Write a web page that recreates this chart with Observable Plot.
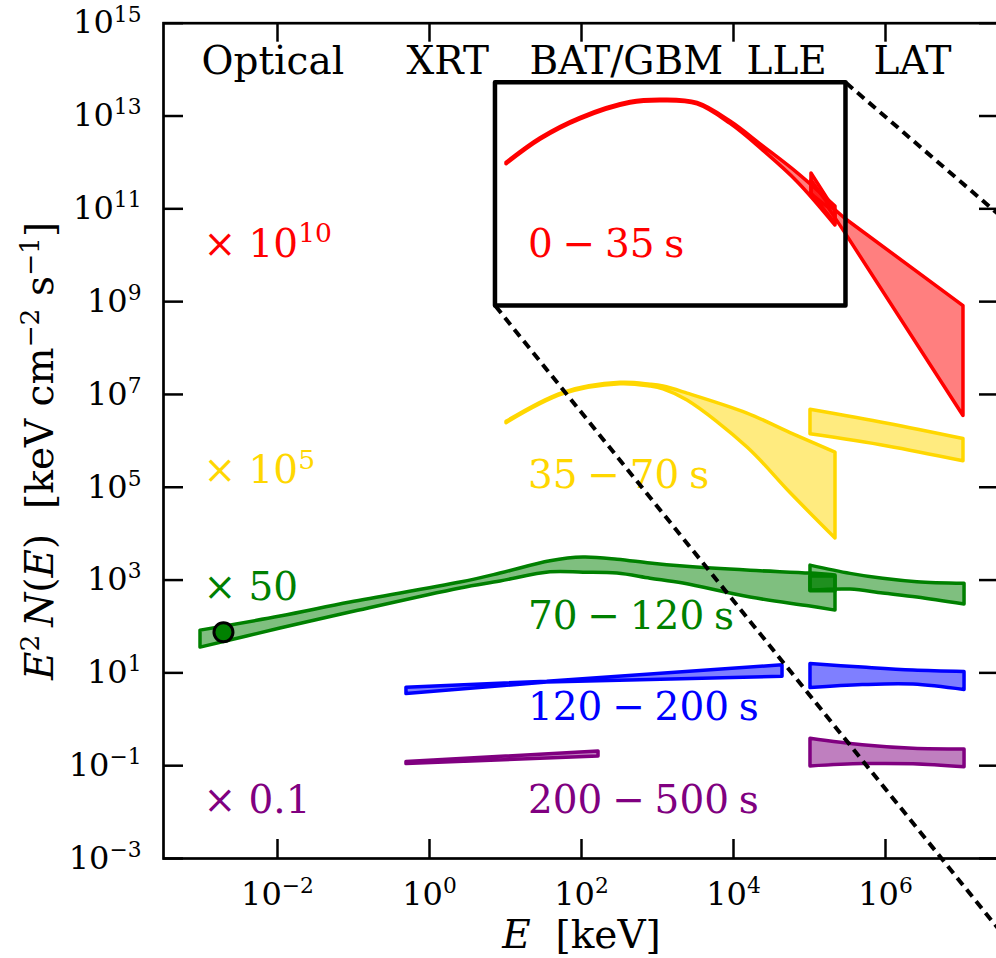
<!DOCTYPE html>
<html><head><meta charset="utf-8">
<script src="https://cdn.jsdelivr.net/npm/d3@7"></script>
<script src="https://cdn.jsdelivr.net/npm/@observablehq/plot@0.6"></script>
<style>
html,body{margin:0;padding:0;background:#fff;overflow:hidden;}
#chart svg{overflow:hidden;display:block;}
</style></head><body><div id="chart"></div>
<script>
// ---------- data (log10 values) ----------
// x = log10(E / keV), y = log10(E^2 N(E) / keV cm^-2 s^-1)
const xTickExp = [-2, 0, 2, 4, 6];
const yTickExp = [-3, -1, 1, 3, 5, 7, 9, 11, 13, 15];

// 0-35 s (x 1e10)
const redGbmLogE = [1.013, 1.461, 1.987, 2.645, 3.079, 3.526, 3.961, 4.395, 4.842, 5.342];
const redGbmLo   = [11.96, 12.49, 12.93, 13.27, 13.32, 13.25, 12.83, 12.25, 11.58, 10.64];
const redGbmHi   = [11.99, 12.52, 12.96, 13.30, 13.35, 13.28, 12.88, 12.34, 11.77, 11.05];
const redLleLogE = [5.026, 5.342];
const redLleLo   = [11.33, 10.68];
const redLleHi   = [11.76, 10.95];
const redLatLogE = [5.026, 5.25, 5.474, 7.026];
const redLatLo   = [11.31, 11.02, 10.47, 6.535];
const redLatHi   = [11.61, 11.10, 10.78, 8.905];

// 35-70 s (x 1e5)
const yelGbmLogE = [1.013, 1.763, 2.513, 2.908, 3.079, 3.395, 4.184, 4.75, 5.342];
const yelGbmLo   = [6.38, 7.005, 7.22, 7.17, 7.11, 6.869, 5.856, 4.875, 3.894];
const yelGbmHi   = [6.41, 7.035, 7.25, 7.21, 7.17, 7.019, 6.588, 6.168, 5.748];
const yelLatLogE = [5.013, 6.03, 7.026];
const yelLatLo   = [6.14, 5.88, 5.56];
const yelLatHi   = [6.67, 6.37, 6.04];

// 70-120 s (x 50)
const grnLogE = [-3.013, -1.961, -1.04, 0.408, 0.934, 1.592, 2.026, 2.474, 2.908, 3.342, 4.224, 5.013, 5.342];
const grnLo   = [1.545, 1.955, 2.30, 2.82, 2.97, 3.168, 3.16, 3.14, 3.03, 2.924, 2.623, 2.43, 2.342];
const grnHi   = [1.911, 2.213, 2.515, 2.946, 3.14, 3.405, 3.485, 3.44, 3.355, 3.29, 3.20, 3.14, 3.097];
const grnLleLogE = [5.013, 5.342];
const grnLleLo   = [2.758, 2.758];
const grnLleHi   = [3.075, 3.075];
const grnLatLogE = [5.013, 5.54, 5.97, 6.42, 7.04];
const grnLatLo   = [2.774, 2.795, 2.709, 2.623, 2.472];
const grnLatHi   = [3.312, 3.134, 3.026, 2.953, 2.918];
const grnOpticalLogE = [-2.711];
const grnOpticalLogF = [1.875];

// 120-200 s (x 1)
const bluXrtLogE = [-0.303, 1.549, 4.645];
const bluXrtLo   = [0.543, 0.79, 0.916];
const bluXrtHi   = [0.679, 0.81, 1.162];
const bluLatLogE = [5.013, 5.7, 6.368, 7.04];
const bluLatLo   = [0.673, 0.737, 0.748, 0.63];
const bluLatHi   = [1.19, 1.114, 1.05, 1.018];

// 200-500 s (x 0.1)
const purXrtLogE = [-0.303, 2.224];
const purXrtLo   = [-0.965, -0.80];
const purXrtHi   = [-0.922, -0.692];
const purLatLogE = [5.013, 5.7, 6.368, 7.04];
const purLatLo   = [-1.015, -0.966, -0.97, -1.036];
const purLatHi   = [-0.42, -0.56, -0.635, -0.65];

// zoom box and connector lines
const boxLogE = [0.868, 5.48];
const boxLogF = [8.905, 13.716];
const dashUpperLogE = [5.48, 8.0];
const dashUpperLogF = [13.716, 10.156];
const dashLowerLogE = [0.868, 8.0];
const dashLowerLogF = [8.905, -5.56];

// text annotations
const instrumentNames = ["Optical", "XRT", "BAT/GBM", "LLE", "LAT"];
const instrumentLogE  = [-3.0, -0.303, 1.316, 4.171, 5.842];
const instrumentLogF  = 14.185;
const scaleLabels = ["× 10^{10}", "× 10^{5}", "× 50", "× 0.1"];
const scaleLogF   = [10.24, 5.35, 2.849, -1.76];
const scaleColors = ["#ff0000", "#ffd700", "#008000", "#800080"];
const intervalLabels = ["0\u2005−\u200535\u2005s", "35\u2005−\u200570\u2005s", "70\u2005−\u2005120\u2005s", "120\u2005−\u2005200\u2005s", "200\u2005−\u2005500\u2005s"];
const intervalLogF   = [10.24, 5.263, 2.213, 0.252, -1.741];
const intervalColors = ["#ff0000", "#ffd700", "#008000", "#0000ff", "#800080"];
const labelLeftLogE = -2.974;
const labelMidLogE = 1.296;

// ---------- build ----------
const RED = "#ff0000", YEL = "#ffd700", GRN = "#008000", BLU = "#0000ff", PUR = "#800080";
const bands = [
  {c: RED, e: redGbmLogE, lo: redGbmLo, hi: redGbmHi, curve: "catmull-rom"},
  {c: RED, e: redLleLogE, lo: redLleLo, hi: redLleHi, curve: "linear"},
  {c: RED, e: redLatLogE, lo: redLatLo, hi: redLatHi, curve: "linear"},
  {c: YEL, e: yelGbmLogE, lo: yelGbmLo, hi: yelGbmHi, curve: "catmull-rom"},
  {c: YEL, e: yelLatLogE, lo: yelLatLo, hi: yelLatHi, curve: "catmull-rom"},
  {c: GRN, e: grnLogE, lo: grnLo, hi: grnHi, curve: "catmull-rom"},
  {c: GRN, e: grnLleLogE, lo: grnLleLo, hi: grnLleHi, curve: "linear"},
  {c: GRN, e: grnLatLogE, lo: grnLatLo, hi: grnLatHi, curve: "catmull-rom"},
  {c: BLU, e: bluXrtLogE, lo: bluXrtLo, hi: bluXrtHi, curve: "linear"},
  {c: BLU, e: bluLatLogE, lo: bluLatLo, hi: bluLatHi, curve: "catmull-rom"},
  {c: PUR, e: purXrtLogE, lo: purXrtLo, hi: purXrtHi, curve: "linear"},
  {c: PUR, e: purLatLogE, lo: purLatLo, hi: purLatHi, curve: "catmull-rom"}
];
const p10 = v => Math.pow(10, v);
const expStr = k => "10^{" + String(k).replace("-", "−") + "}";

const W = 996, H = 958, ML = 163, MT = 22.7, MB = 100, MR = -3;
const frameW = W - MR - ML, frameH = H - MB - MT;
const FONT = "'DejaVu Serif', serif";

const marks = [];
for (const b of bands) {
  const rows = b.e.map((e, i) => ({E: p10(e), lo: p10(b.lo[i]), hi: p10(b.hi[i])}));
  marks.push(Plot.areaY(rows, {x: "E", y1: "lo", y2: "hi", fill: b.c, fillOpacity: 0.5,
    stroke: b.c, strokeWidth: 3.5, strokeLinejoin: "round", curve: b.curve}));
}
marks.push(Plot.dot(grnOpticalLogE.map((e, i) => ({E: p10(e), F: p10(grnOpticalLogF[i])})),
  {x: "E", y: "F", r: 9.5, fill: GRN, stroke: "black", strokeWidth: 3}));

// zoom box
marks.push(Plot.rect([{x1: p10(boxLogE[0]), x2: p10(boxLogE[1]), y1: p10(boxLogF[0]), y2: p10(boxLogF[1])}],
  {x1: "x1", x2: "x2", y1: "y1", y2: "y2", fill: "none", stroke: "black", strokeWidth: 4.5, strokeLinejoin: "round"}));

// text annotations
marks.push(Plot.text(instrumentNames, {x: (d, i) => p10(instrumentLogE[i]), y: p10(instrumentLogF),
  text: d => d, textAnchor: "start", lineAnchor: "middle", fontSize: 39, fontFamily: FONT, fill: "black"}));
marks.push(Plot.text(scaleLabels, {x: p10(labelLeftLogE), y: (d, i) => p10(scaleLogF[i]),
  text: d => d, textAnchor: "start", lineAnchor: "middle", fontSize: 39, fontFamily: FONT,
  fill: (d, i) => scaleColors[i]}));
marks.push(Plot.text(intervalLabels, {x: p10(labelMidLogE), y: (d, i) => p10(intervalLogF[i]),
  text: d => d, textAnchor: "start", lineAnchor: "middle", fontSize: 39, fontFamily: FONT,
  fill: (d, i) => intervalColors[i]}));

// connector dashed lines
const dashStyle = {x: "E", y: "F", stroke: "black", strokeWidth: 4, strokeDasharray: "9,6",
  strokeLinecap: "butt", strokeLinejoin: "miter"};
marks.push(Plot.line(dashUpperLogE.map((e, i) => ({E: p10(e), F: p10(dashUpperLogF[i])})), dashStyle));
marks.push(Plot.line(dashLowerLogE.map((e, i) => ({E: p10(e), F: p10(dashLowerLogF[i])})), dashStyle));

// frame and inward ticks
marks.push(Plot.frame({stroke: "black", strokeWidth: 2.7}));
const xT = xTickExp.map(p10), yT = yTickExp.map(p10);
marks.push(Plot.tickX(xT, {x: d => d, insetTop: frameH - 19, stroke: "black", strokeWidth: 2.5}));
marks.push(Plot.tickX(xT, {x: d => d, insetBottom: frameH - 19, stroke: "black", strokeWidth: 2.5}));
marks.push(Plot.tickY(yT, {y: d => d, insetRight: frameW - 20, stroke: "black", strokeWidth: 2.5}));
marks.push(Plot.tickY(yT, {y: d => d, insetLeft: frameW - 20, stroke: "black", strokeWidth: 2.5}));

// tick labels
marks.push(Plot.text(xTickExp, {x: d => p10(d), frameAnchor: "bottom", dy: 36, text: expStr,
  lineAnchor: "middle", textAnchor: "middle", fontSize: 32, fontFamily: FONT, fill: "black"}));
marks.push(Plot.text(yTickExp, {y: d => p10(d), frameAnchor: "left", dx: -22, text: expStr,
  lineAnchor: "middle", textAnchor: "end", fontSize: 32, fontFamily: FONT, fill: "black"}));

// axis labels
marks.push(Plot.text(["*E*  [keV]"], {frameAnchor: "bottom", dy: 77.5, text: d => d,
  lineAnchor: "middle", textAnchor: "middle", fontSize: 39, fontFamily: FONT, fill: "black"}));
marks.push(Plot.text(["*E*^{2}\u2009*N*(*E*)  [keV cm^{−2} s^{−1}]"], {frameAnchor: "left", dx: -122.5, dy: 10,
  rotate: -90, text: d => d, lineAnchor: "middle", textAnchor: "middle", fontSize: 39, fontFamily: FONT, fill: "black"}));

const chart = Plot.plot({
  width: W, height: H,
  marginLeft: ML, marginRight: MR, marginTop: MT, marginBottom: MB,
  x: {type: "log", domain: [p10(-3.5), p10(7.5)], axis: null},
  y: {type: "log", domain: [1e-3, 1e15], axis: null},
  style: {fontFamily: FONT, background: "white", overflow: "hidden"},
  marks
});
document.getElementById("chart").appendChild(chart);

// rich text: *italic* and ^{superscript}
function rich(el) {
  const s = el.textContent;
  if (!/[\^*]/.test(s)) return;
  const fs = parseFloat(getComputedStyle(el).fontSize);
  const segs = [];
  let it = false, cur = "", i = 0;
  const push = () => { if (cur) segs.push({t: cur, it, sup: false}); cur = ""; };
  while (i < s.length) {
    const c = s[i];
    if (c === "*") { push(); it = !it; i++; }
    else if (c === "^" && s[i + 1] === "{") {
      push();
      const j = s.indexOf("}", i);
      segs.push({t: s.slice(i + 2, j), it: false, sup: true});
      i = j + 1;
    } else { cur += c; i++; }
  }
  push();
  el.textContent = "";
  el.style.whiteSpace = "pre";
  const shift = 0.37 * fs;
  let raised = false;
  for (const sg of segs) {
    const ts = document.createElementNS("http://www.w3.org/2000/svg", "tspan");
    ts.textContent = sg.t;
    if (sg.it) ts.setAttribute("font-style", "italic");
    if (sg.sup && !raised) { ts.setAttribute("dy", -shift); raised = true; }
    else if (!sg.sup && raised) { ts.setAttribute("dy", shift); raised = false; }
    if (sg.sup) ts.setAttribute("font-size", 0.68 * fs);
    el.appendChild(ts);
  }
}
chart.querySelectorAll("text").forEach(rich);
</script>
</body></html>
